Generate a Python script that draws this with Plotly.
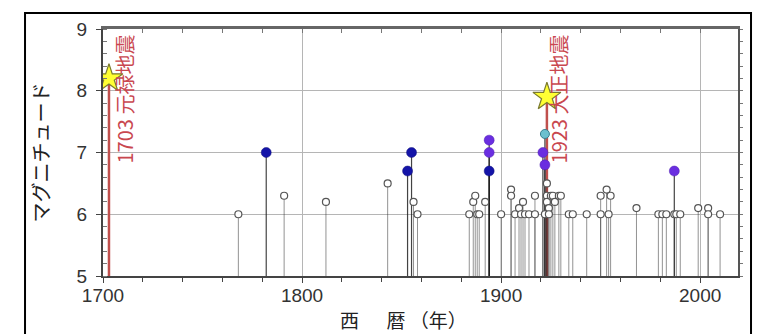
import plotly.graph_objects as go

# ---- data ----
open_years = [1768, 1791, 1812, 1843, 1856, 1858, 1884, 1886, 1887, 1888, 1889, 1892,
              1900, 1905, 1905, 1907, 1909, 1910, 1911, 1912, 1914, 1917, 1917,
              1922, 1923, 1923, 1923, 1924, 1924, 1925, 1926, 1927, 1929, 1930,
              1934, 1936, 1943, 1950, 1950, 1953, 1954, 1955, 1968,
              1979, 1981, 1983, 1987, 1988, 1990, 1999, 2004, 2004, 2010]
open_mags = [6.0, 6.3, 6.2, 6.5, 6.2, 6.0, 6.0, 6.2, 6.3, 6.0, 6.0, 6.2,
             6.0, 6.4, 6.3, 6.0, 6.1, 6.0, 6.2, 6.0, 6.0, 6.3, 6.0,
             6.0, 6.5, 6.3, 6.2, 6.1, 6.0, 6.3, 6.3, 6.2, 6.3, 6.3,
             6.0, 6.0, 6.0, 6.3, 6.0, 6.4, 6.0, 6.3, 6.1,
             6.0, 6.0, 6.0, 6.0, 6.0, 6.0, 6.1, 6.1, 6.0, 6.0]

blue_years = [1782, 1853, 1855, 1894]
blue_mags = [7.0, 6.7, 7.0, 6.7]

purple_years = [1894, 1894, 1921, 1922, 1987]
purple_mags = [7.2, 7.0, 7.0, 6.8, 6.7]

cyan_years = [1922]
cyan_mags = [7.3]

star_years = [1703, 1923]
star_mags = [8.2, 7.9]
star_labels = ["1703 元禄地震", "1923 大正地震"]
label_offsets = [8, 6]

x_ticks = [1700, 1800, 1900, 2000]
y_ticks = [5, 6, 7, 8, 9]

BASE = 5.0
RED = "#c9474f"


def stems(xs, ys):
    sx, sy = [], []
    for x, y in zip(xs, ys):
        sx += [x, x, None]
        sy += [BASE, y, None]
    return sx, sy


fig = go.Figure()

sx, sy = stems(star_years, star_mags)
fig.add_trace(go.Scatter(x=sx, y=sy, mode="lines",
                         line=dict(color="#c0504d", width=2.5), hoverinfo="skip"))

sx, sy = stems(open_years, open_mags)
fig.add_trace(go.Scatter(x=sx, y=sy, mode="lines",
                         line=dict(color="rgba(40,40,40,0.5)", width=1), hoverinfo="skip"))

sx, sy = stems(blue_years + purple_years + cyan_years,
               blue_mags + purple_mags + cyan_mags)
fig.add_trace(go.Scatter(x=sx, y=sy, mode="lines",
                         line=dict(color="rgba(20,20,20,0.8)", width=1.2), hoverinfo="skip"))

fig.add_trace(go.Scatter(x=open_years, y=open_mags, mode="markers",
                         marker=dict(symbol="circle", size=7, color="white",
                                     line=dict(color="#555555", width=1.2))))
fig.add_trace(go.Scatter(x=blue_years, y=blue_mags, mode="markers",
                         marker=dict(symbol="circle", size=10, color="#1414a8",
                                     line=dict(color="#10107a", width=0.5))))
fig.add_trace(go.Scatter(x=purple_years, y=purple_mags, mode="markers",
                         marker=dict(symbol="circle", size=10, color="#6a2ee0",
                                     line=dict(color="#5020b0", width=0.5))))
fig.add_trace(go.Scatter(x=cyan_years, y=cyan_mags, mode="markers",
                         marker=dict(symbol="circle", size=9, color="#6cc0cf",
                                     line=dict(color="#3a7f90", width=1))))
fig.add_trace(go.Scatter(x=star_years, y=star_mags, mode="markers",
                         marker=dict(symbol="star", size=21, color="#ffff33",
                                     line=dict(color="#7a7a30", width=1.2))))

fig.add_trace(go.Scatter(x=[None], y=[None], xaxis="x2", yaxis="y2", showlegend=False))

for yr, lab, off in zip(star_years, star_labels, label_offsets):
    fig.add_annotation(x=yr + off, y=8.95, text=lab, textangle=-90, showarrow=False,
                       xanchor="center", yanchor="top",
                       font=dict(family="Noto Sans CJK JP", size=20, color=RED))

# x-axis title
fig.add_annotation(xref="paper", yref="paper", x=0.474, y=-0.175,
                   text="西　  暦 （年）", showarrow=False,
                   xanchor="center", yanchor="middle",
                   font=dict(family="Noto Sans CJK JP", size=19, color="#222"))

# outer frame
fig.add_shape(type="rect", xref="paper", yref="paper",
              x0=-0.1228, x1=1.0205, y0=-0.40, y1=1.0648,
              line=dict(color="black", width=2), fillcolor="rgba(0,0,0,0)")

tickfont = dict(family="Liberation Sans, Arial", size=19, color="#333333")
axcol = "#444444"
x_range = [1700, 2019]
y_range = [5, 9]

fig.update_layout(
    width=763, height=334,
    margin=dict(l=95, r=33, t=21, b=66),
    paper_bgcolor="white", plot_bgcolor="white",
    showlegend=False,
    xaxis=dict(range=x_range, tickmode="array", tickvals=x_ticks,
               ticktext=[str(v) for v in x_ticks],
               ticks="outside", ticklen=5, tickcolor=axcol, tickwidth=1,
               ticklabelstandoff=-4,
               minor=dict(dtick=20, tick0=1700, ticks="outside", ticklen=4,
                          tickcolor=axcol, showgrid=False),
               showgrid=True, gridcolor="#b5b5b5", gridwidth=1,
               showline=True, linecolor=axcol, linewidth=2, zeroline=False,
               tickfont=tickfont),
    yaxis=dict(range=y_range, tickmode="array", tickvals=y_ticks,
               ticks="outside", ticklen=5, tickcolor=axcol,
               ticklabelstandoff=5,
               minor=dict(dtick=0.2, tick0=5, ticks="inside", ticklen=4,
                          tickcolor="#777", showgrid=False),
               showgrid=True, gridcolor="#b5b5b5", gridwidth=1,
               showline=True, linecolor=axcol, linewidth=2, zeroline=False,
               tickfont=tickfont,
               title=dict(text="マグニチュード", standoff=22,
                          font=dict(family="Noto Sans CJK JP", size=20, color="#222"))),
    xaxis2=dict(range=x_range, overlaying="x", side="top", anchor="y2",
                ticks="inside", dtick=20, tick0=1700, ticklen=4, tickcolor="#777",
                showticklabels=False, showgrid=False, zeroline=False,
                showline=True, linecolor="#666", linewidth=2.5),
    yaxis2=dict(range=y_range, overlaying="y", side="right", anchor="x2",
                ticks="outside", dtick=0.2, tick0=5, ticklen=3, tickcolor="#777",
                showticklabels=False, showgrid=False, zeroline=False,
                showline=True, linecolor="#555", linewidth=1.5),
)

fig.write_html("out.html")
